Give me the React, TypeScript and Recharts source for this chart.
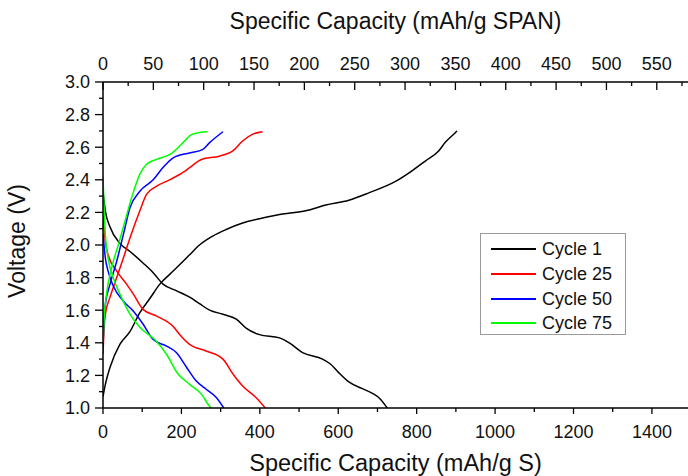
import React from "react";
import { LineChart, Line, XAxis, YAxis, Legend, Label } from "recharts";

// capacity (mAh/g S), voltage (V)
const cycle1Discharge = [
  [0, 2.33], [6, 2.21], [18, 2.11], [43, 2.01], [69, 1.96], [102, 1.89], [128, 1.83],
  [153, 1.76], [187, 1.72], [221, 1.68], [246, 1.64], [272, 1.6], [306, 1.575],
  [340, 1.545], [365, 1.49], [399, 1.45], [450, 1.43], [475, 1.4], [509, 1.34],
  [560, 1.3], [580, 1.27], [600, 1.22], [627, 1.16], [660, 1.12], [687, 1.09],
  [705, 1.06], [725, 1.0],
];
const cycle1Charge = [
  [0, 1.07], [6, 1.145], [18, 1.25], [43, 1.39], [69, 1.47], [94, 1.585], [119, 1.67],
  [145, 1.76], [170, 1.82], [196, 1.88], [221, 1.94], [246, 2.0], [280, 2.055],
  [314, 2.095], [356, 2.135], [407, 2.165], [458, 2.19], [517, 2.21], [568, 2.245],
  [627, 2.275], [678, 2.32], [746, 2.39], [788, 2.455], [822, 2.515], [856, 2.577],
  [873, 2.63], [899, 2.69], [903, 2.7],
];
const cycle25Discharge = [
  [0, 2.18], [6, 2.02], [13, 1.94], [35, 1.84], [60, 1.76], [77, 1.7], [102, 1.605],
  [136, 1.565], [179, 1.5], [196, 1.45], [221, 1.39], [263, 1.35], [306, 1.3],
  [331, 1.21], [356, 1.135], [390, 1.065], [414, 1.0],
];
const cycle25Charge = [
  [0, 1.33], [3, 1.5], [6, 1.575], [18, 1.68], [35, 1.8], [52, 1.92], [69, 2.045],
  [94, 2.21], [111, 2.31], [136, 2.36], [170, 2.4], [204, 2.445], [221, 2.475],
  [251, 2.525], [297, 2.545], [331, 2.577], [356, 2.638], [382, 2.68], [407, 2.695],
];
const cycle50Discharge = [
  [0, 2.07], [6, 1.92], [13, 1.84], [26, 1.75], [52, 1.655], [77, 1.595], [102, 1.515],
  [128, 1.42], [162, 1.38], [187, 1.34], [213, 1.25], [238, 1.165], [263, 1.115],
  [289, 1.065], [308, 1.0],
];
const cycle50Charge = [
  [0, 1.38], [3, 1.55], [6, 1.635], [18, 1.76], [35, 1.9], [52, 2.065], [69, 2.23],
  [94, 2.33], [128, 2.4], [153, 2.475], [179, 2.535], [221, 2.565], [255, 2.587],
  [272, 2.628], [306, 2.695],
];
const cycle75Discharge = [
  [0, 2.42], [3, 2.21], [6, 2.065], [13, 1.92], [26, 1.8], [43, 1.7], [69, 1.575],
  [94, 1.495], [136, 1.41], [162, 1.33], [191, 1.21], [221, 1.145], [251, 1.085],
  [272, 1.01], [276, 1.0],
];
const cycle75Charge = [
  [0, 1.4], [3, 1.555], [9, 1.7], [22, 1.86], [39, 2.0], [56, 2.145], [73, 2.29],
  [94, 2.435], [111, 2.495], [136, 2.525], [174, 2.56], [200, 2.618], [225, 2.675],
  [246, 2.69], [267, 2.695],
];

const cycleNames = ["Cycle 1", "Cycle 25", "Cycle 50", "Cycle 75"];
const cycleColors = ["#000000", "#ff0000", "#0000ff", "#00ff00"];
const cycleCurves = [
  [cycle1Discharge, cycle1Charge],
  [cycle25Discharge, cycle25Charge],
  [cycle50Discharge, cycle50Charge],
  [cycle75Discharge, cycle75Charge],
];

const bottomMajor = [0, 200, 400, 600, 800, 1000, 1200, 1400];
const bottomMinor = [100, 300, 500, 700, 900, 1100, 1300];
const topMajor = [0, 50, 100, 150, 200, 250, 300, 350, 400, 450, 500, 550];
const topMinor = [25, 75, 125, 175, 225, 275, 325, 375, 425, 475, 525, 575];
const voltMajor = [1.0, 1.2, 1.4, 1.6, 1.8, 2.0, 2.2, 2.4, 2.6, 2.8, 3.0];
const voltMinor = [1.1, 1.3, 1.5, 1.7, 1.9, 2.1, 2.3, 2.5, 2.7, 2.9];

const FONT = "'Liberation Sans', Arial, sans-serif";
const AXIS = "#000";

const BottomTick = (props: any) => {
  const { x, y, payload } = props;
  const major = bottomMajor.includes(payload.value);
  return (
    <g>
      <line x1={x} x2={x} y1={y} y2={y + (major ? 6 : 4)} stroke={AXIS} strokeWidth={1.3} />
      {major && (
        <text x={x} y={y + 30} textAnchor="middle" fontSize={18} fontFamily={FONT} fill="#111">
          {payload.value}
        </text>
      )}
    </g>
  );
};

const TopTick = (props: any) => {
  const { x, y, payload } = props;
  const major = topMajor.includes(payload.value);
  return (
    <g>
      <line x1={x} x2={x} y1={y} y2={y + (major ? 8 : 4)} stroke={AXIS} strokeWidth={1.3} />
      {major && (
        <text x={x} y={y - 12} textAnchor="middle" fontSize={18} fontFamily={FONT} fill="#111">
          {payload.value}
        </text>
      )}
    </g>
  );
};

const LeftTick = (props: any) => {
  const { x, y, payload } = props;
  const major = voltMajor.includes(payload.value);
  return (
    <g>
      <line x1={x - (major ? 8 : 4)} x2={x} y1={y} y2={y} stroke={AXIS} strokeWidth={1.3} />
      {major && (
        <text x={x - 13} y={y} dy="0.36em" textAnchor="end" fontSize={18} fontFamily={FONT} fill="#111">
          {payload.value.toFixed(1)}
        </text>
      )}
    </g>
  );
};

const CycleLegend = () => (
  <div
    style={{
      width: 146,
      height: 102,
      boxSizing: "border-box",
      border: "1px solid #9a9a9a",
      background: "#fff",
      paddingTop: 3,
      fontFamily: FONT,
      fontSize: 18,
      color: "#111",
    }}
  >
    {cycleNames.map((name, i) => (
      <div key={name} style={{ display: "flex", alignItems: "center", height: 24.7 }}>
        <span
          style={{
            display: "inline-block",
            width: 45,
            height: 0,
            borderTop: `2px solid ${cycleColors[i]}`,
            marginLeft: 10,
          }}
        />
        <span style={{ marginLeft: 6, lineHeight: "20px" }}>{name}</span>
      </div>
    ))}
  </div>
);

export default function App() {
  return (
    <div style={{ position: "absolute", left: 0, top: 0, background: "#fff" }}>
      <LineChart width={688} height={476} margin={{ top: 0, right: 0, bottom: 0, left: 0 }}>
        <XAxis
          xAxisId="bottom"
          type="number"
          dataKey="cap"
          orientation="bottom"
          domain={[0, 1492]}
          allowDataOverflow
          ticks={[...bottomMajor, ...bottomMinor].sort((a, b) => a - b)}
          interval={0}
          height={68}
          tickSize={0}
          tickMargin={0}
          tickLine={false}
          axisLine={{ stroke: AXIS, strokeWidth: 1.5 }}
          tick={<BottomTick />}
        >
          <Label
            content={(p: any) => (
              <text
                x={p.viewBox.x + p.viewBox.width / 2}
                y={471}
                textAnchor="middle"
                fontSize={23.5}
                fontFamily={FONT}
                fill="#111"
              >
                Specific Capacity (mAh/g S)
              </text>
            )}
          />
        </XAxis>
        <XAxis
          xAxisId="top"
          type="number"
          dataKey="cap"
          orientation="top"
          domain={[0, 581]}
          allowDataOverflow
          ticks={[...topMajor, ...topMinor].sort((a, b) => a - b)}
          interval={0}
          height={82}
          tickSize={0}
          tickMargin={0}
          tickLine={false}
          axisLine={{ stroke: AXIS, strokeWidth: 1.5 }}
          tick={<TopTick />}
        >
          <Label
            content={(p: any) => (
              <text
                x={p.viewBox.x + p.viewBox.width / 2}
                y={29}
                textAnchor="middle"
                fontSize={23}
                fontFamily={FONT}
                fill="#111"
              >
                Specific Capacity (mAh/g SPAN)
              </text>
            )}
          />
        </XAxis>
        <YAxis
          type="number"
          domain={[1, 3]}
          allowDataOverflow
          ticks={[...voltMajor, ...voltMinor].sort((a, b) => a - b)}
          interval={0}
          width={103}
          tickSize={0}
          tickMargin={0}
          tickLine={false}
          axisLine={{ stroke: AXIS, strokeWidth: 1.5 }}
          tick={<LeftTick />}
        >
          <Label
            content={() => (
              <text
                x={25}
                y={241}
                transform="rotate(-90, 25, 241)"
                textAnchor="middle"
                fontSize={23}
                fontFamily={FONT}
                fill="#111"
              >
                Voltage (V)
              </text>
            )}
          />
        </YAxis>
        {cycleCurves.map((curves, i) =>
          curves.map((pts, j) => (
            <Line
              key={`${i}-${j}`}
              xAxisId="bottom"
              data={pts.map(([cap, v]) => ({ cap, v }))}
              dataKey="v"
              type="monotone"
              stroke={cycleColors[i]}
              strokeWidth={1.5}
              dot={false}
              activeDot={false}
              legendType="none"
              isAnimationActive={false}
            />
          ))
        )}
        <Legend
          layout="vertical"
          align="center"
          verticalAlign="middle"
          wrapperStyle={{ left: 480, top: 233, width: 146, height: 102 }}
          content={() => <CycleLegend />}
        />
      </LineChart>
    </div>
  );
}
